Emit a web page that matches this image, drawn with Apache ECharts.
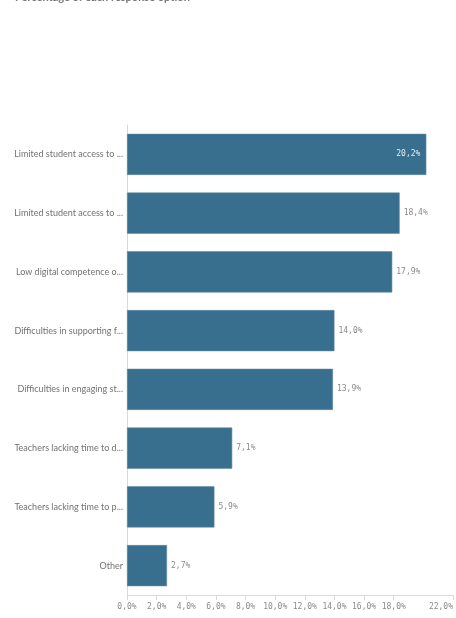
<!DOCTYPE html>
<html><head><meta charset="utf-8">
<script src="https://cdn.jsdelivr.net/npm/echarts@6/dist/echarts.min.js"></script>
<style>html,body{margin:0;padding:0;background:#fff}#c{width:456px;height:618px}</style>
</head><body><div id="c"></div>
<script>
const titleText = "Percentage of each response option";
const categories = [
  "Limited student access to ...",
  "Limited student access to ...",
  "Low digital competence o...",
  "Difficulties in supporting f...",
  "Difficulties in engaging st...",
  "Teachers lacking time to d...",
  "Teachers lacking time to p...",
  "Other"
];
const values = [20.2, 18.4, 17.9, 14.0, 13.9, 7.1, 5.9, 2.7];
const insideLabelIndex = [0];
const xTickValues = [0, 2, 4, 6, 8, 10, 12, 14, 16, 18, 22];

const fmt = v => v.toFixed(1).replace('.', ',') + '%';

const chart = echarts.init(document.getElementById('c'), null, {renderer: 'canvas'});
chart.setOption({
  animation: false,
  title: {
    text: titleText, left: 10, top: -13,
    textStyle: {fontFamily: 'Lato', fontSize: 11, fontWeight: 'bold', color: '#777'}
  },
  grid: {left: 127, right: -1, top: 125, bottom: 23, containLabel: false},
  xAxis: {
    type: 'value', min: 0, max: 22, interval: 2,
    axisLine: {show: true, lineStyle: {color: '#d9d9d9'}},
    axisTick: {show: true, length: 5, lineStyle: {color: '#d9d9d9'}, customValues: xTickValues},
    splitLine: {show: false},
    axisLabel: {
      fontFamily: 'DejaVu Sans Mono', fontSize: 8, color: '#8a8a8a', margin: 8,
      customValues: xTickValues,
      alignMaxLabel: 'right',
      formatter: v => fmt(v)
    }
  },
  yAxis: {
    type: 'category', data: categories, inverse: true,
    axisLine: {show: true, lineStyle: {color: '#d9d9d9'}},
    axisTick: {show: false},
    axisLabel: {fontFamily: 'Lato', fontSize: 9, color: '#727272', margin: 4}
  },
  series: [{
    type: 'bar',
    barCategoryGap: '30%',
    data: values.map((v, i) => ({
      value: v,
      label: insideLabelIndex.includes(i)
        ? {position: 'insideRight', color: '#e8eef2', distance: 6}
        : {position: 'right', color: '#8a8a8a', distance: 4}
    })),
    itemStyle: {color: '#386e8e', borderColor: '#5e8aa5', borderWidth: 0.6},
    label: {
      show: true, fontFamily: 'DejaVu Sans Mono', fontSize: 8,
      formatter: p => fmt(p.value)
    }
  }]
});
</script></body></html>
